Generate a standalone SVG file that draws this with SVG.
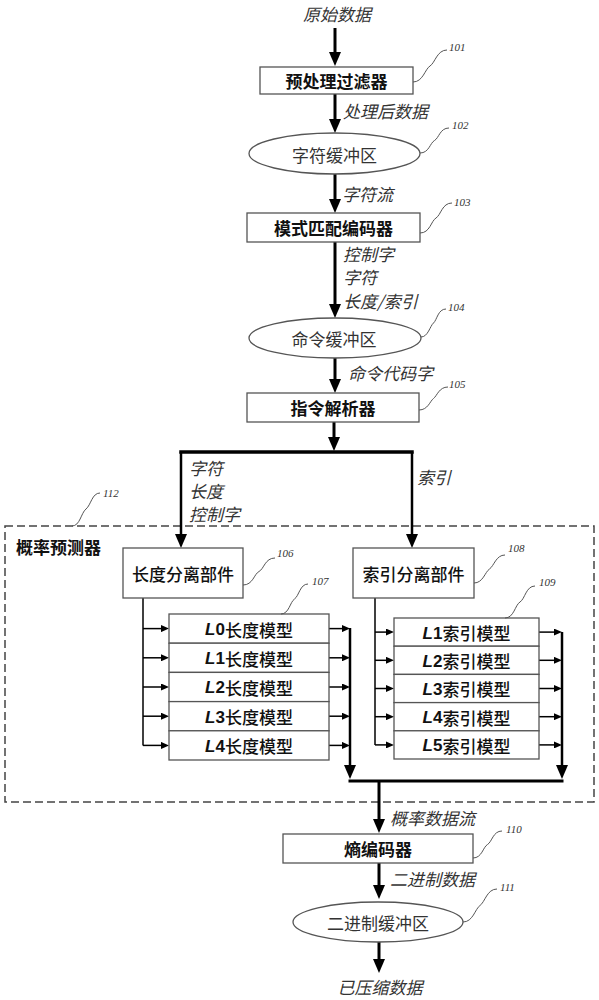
<svg xmlns="http://www.w3.org/2000/svg" width="599" height="1000" viewBox="0 0 599 1000">
<style>
text{font-family:"Noto Sans CJK SC","Liberation Sans",sans-serif;font-size:17px;fill:#111;dominant-baseline:central}
.box{fill:#fff;stroke:#555;stroke-width:1.3}
.bt{text-anchor:middle;font-weight:700}
.mt{text-anchor:middle;font-weight:500}
.et{text-anchor:middle;font-weight:400;fill:#333}
.lbl{font-style:italic;fill:#333}
.num{font-family:"Liberation Serif",serif;font-style:italic;font-size:11px;fill:#333}
.sq{fill:none;stroke:#555;stroke-width:1}
.thick{fill:none;stroke:#000;stroke-width:3}
.thin{fill:none;stroke:#000;stroke-width:1.5}
.Lb{font-family:"Liberation Sans",sans-serif;font-weight:700;font-style:italic}
.Db{font-family:"Liberation Sans",sans-serif;font-weight:700}
</style>
<defs>
<marker id="ah" markerUnits="userSpaceOnUse" markerWidth="14" markerHeight="12" viewBox="0 0 14 12" refX="6" refY="6" orient="auto"><path d="M0,0 L14,6 L0,12 z" fill="#000"/></marker>
<marker id="as" markerUnits="userSpaceOnUse" markerWidth="8" markerHeight="7" viewBox="0 0 8 7" refX="4" refY="3.5" orient="auto"><path d="M0,0 L8,3.5 L0,7 z" fill="#000"/></marker>
</defs>

<g id="predictor-112">
<rect x="5" y="526" width="589" height="276" fill="none" stroke="#444" stroke-width="1.5" stroke-dasharray="8 4"/>
<text x="16" y="546" font-weight="700">概率预测器</text>
<path class="sq" d="M72,526 C80,526 81,513 86,509 S92,493 100,493"/>
<text class="num" x="103" y="493">112</text>
</g>

<g id="connectors">
<line class="thick" x1="335" y1="28" x2="335" y2="58" marker-end="url(#ah)"/>
<line class="thick" x1="335" y1="94" x2="335" y2="125" marker-end="url(#ah)"/>
<line class="thick" x1="335" y1="174" x2="335" y2="205" marker-end="url(#ah)"/>
<line class="thick" x1="335" y1="242" x2="335" y2="310" marker-end="url(#ah)"/>
<line class="thick" x1="335" y1="358" x2="335" y2="385" marker-end="url(#ah)"/>
<line class="thick" x1="334" y1="422" x2="334" y2="443" marker-end="url(#ah)"/>
<line x1="181" y1="452" x2="412" y2="452" stroke="#000" stroke-width="3.5" stroke-linecap="square"/>
<line x1="181" y1="452" x2="181" y2="540" stroke="#000" stroke-width="2.5" marker-end="url(#ah)"/>
<line x1="412" y1="452" x2="412" y2="540" stroke="#000" stroke-width="2.5" marker-end="url(#ah)"/>

<path class="thin" d="M143,598 V745.4"/>
<line class="thin" x1="143" y1="628.6" x2="165" y2="628.6" marker-end="url(#as)"/>
<line class="thin" x1="143" y1="657.8" x2="165" y2="657.8" marker-end="url(#as)"/>
<line class="thin" x1="143" y1="687" x2="165" y2="687" marker-end="url(#as)"/>
<line class="thin" x1="143" y1="716.2" x2="165" y2="716.2" marker-end="url(#as)"/>
<line class="thin" x1="143" y1="745.4" x2="165" y2="745.4" marker-end="url(#as)"/>
<line class="thin" x1="329" y1="628.6" x2="346" y2="628.6" marker-end="url(#as)"/>
<line class="thin" x1="329" y1="657.8" x2="346" y2="657.8" marker-end="url(#as)"/>
<line class="thin" x1="329" y1="687" x2="346" y2="687" marker-end="url(#as)"/>
<line class="thin" x1="329" y1="716.2" x2="346" y2="716.2" marker-end="url(#as)"/>
<line class="thin" x1="329" y1="745.4" x2="346" y2="745.4" marker-end="url(#as)"/>
<line x1="350" y1="628" x2="350" y2="771" stroke="#000" stroke-width="2.5" marker-end="url(#ah)"/>

<path class="thin" d="M375,598 V744.9"/>
<line class="thin" x1="375" y1="632.1" x2="390" y2="632.1" marker-end="url(#as)"/>
<line class="thin" x1="375" y1="660.3" x2="390" y2="660.3" marker-end="url(#as)"/>
<line class="thin" x1="375" y1="688.5" x2="390" y2="688.5" marker-end="url(#as)"/>
<line class="thin" x1="375" y1="716.7" x2="390" y2="716.7" marker-end="url(#as)"/>
<line class="thin" x1="375" y1="744.9" x2="390" y2="744.9" marker-end="url(#as)"/>
<line class="thin" x1="539" y1="632.1" x2="558" y2="632.1" marker-end="url(#as)"/>
<line class="thin" x1="539" y1="660.3" x2="558" y2="660.3" marker-end="url(#as)"/>
<line class="thin" x1="539" y1="688.5" x2="558" y2="688.5" marker-end="url(#as)"/>
<line class="thin" x1="539" y1="716.7" x2="558" y2="716.7" marker-end="url(#as)"/>
<line class="thin" x1="539" y1="744.9" x2="558" y2="744.9" marker-end="url(#as)"/>
<line x1="562" y1="632" x2="562" y2="771" stroke="#000" stroke-width="2.5" marker-end="url(#ah)"/>

<line x1="350" y1="781" x2="562" y2="781" stroke="#000" stroke-width="3" stroke-linecap="square"/>
<line class="thick" x1="379" y1="781" x2="379" y2="825" marker-end="url(#ah)"/>
<line class="thick" x1="379" y1="863" x2="379" y2="891" marker-end="url(#ah)"/>
<line class="thick" x1="379" y1="942" x2="379" y2="965" marker-end="url(#ah)"/>
</g>

<g id="labels">
<text class="lbl" x="337" y="13" text-anchor="middle">原始数据</text>
<text class="lbl" x="343" y="110">处理后数据</text>
<text class="lbl" x="342" y="193">字符流</text>
<text class="lbl" x="343" y="253">控制字</text>
<text class="lbl" x="343" y="276">字符</text>
<text class="lbl" x="343" y="300">长度/索引</text>
<text class="lbl" x="348" y="372">命令代码字</text>
<text class="lbl" x="189" y="467">字符</text>
<text class="lbl" x="189" y="490">长度</text>
<text class="lbl" x="189" y="513">控制字</text>
<text class="lbl" x="417" y="476">索引</text>
<text class="lbl" x="390" y="817">概率数据流</text>
<text class="lbl" x="390" y="878">二进制数据</text>
<text class="lbl" x="380" y="986" text-anchor="middle">已压缩数据</text>
</g>

<g id="node-101">
<rect class="box" x="260" y="67" width="153" height="27"/>
<text class="bt" x="336.5" y="80.5">预处理过滤器</text>
<path class="sq" d="M413,82 C423,82 425,69 430,66 S437,50 447,50"/>
<text class="num" x="449" y="47">101</text>
</g>

<g id="node-102">
<ellipse class="box" cx="334.5" cy="153.5" rx="85.5" ry="20.5"/>
<text class="et" x="334.5" y="154">字符缓冲区</text>
<path class="sq" d="M420,153 C429,153 430,143 434.5,140.5 S440,128 449,128"/>
<text class="num" x="452" y="125">102</text>
</g>

<g id="node-103">
<rect class="box" x="247" y="213" width="173" height="29"/>
<text class="bt" x="333.5" y="227.5">模式匹配编码器</text>
<path class="sq" d="M420,233 C430,233 431,221 436,218 S442,203 452,203"/>
<text class="num" x="454" y="202">103</text>
</g>

<g id="node-104">
<ellipse class="box" cx="335" cy="338" rx="86" ry="20"/>
<text class="et" x="334" y="338.5">命令缓冲区</text>
<path class="sq" d="M421,337 C428,337 430,326 433.5,323 S438,309 446,309"/>
<text class="num" x="448" y="307">104</text>
</g>

<g id="node-105">
<rect class="box" x="247" y="393" width="172" height="29"/>
<text class="bt" x="333" y="407.5">指令解析器</text>
<path class="sq" d="M419,410 C428,410 430,401 433.5,398.5 S439,387 448,387"/>
<text class="num" x="449" y="384">105</text>
</g>

<g id="node-106">
<rect class="box" x="123" y="548" width="120" height="50"/>
<text class="mt" x="183" y="573">长度分离部件</text>
<path class="sq" d="M243,585 C253,585 254,574 259,571.5 S265,558 275,558"/>
<text class="num" x="277" y="553">106</text>
</g>

<g id="node-108">
<rect class="box" x="353" y="548" width="121" height="50"/>
<text class="mt" x="413.5" y="573">索引分离部件</text>
<path class="sq" d="M474,583 C483,583 485,572 489.5,569 S496,555 505,555"/>
<text class="num" x="508" y="548">108</text>
</g>

<g id="node-107">
<rect class="box" x="169" y="614" width="160" height="29.2"/>
<rect class="box" x="169" y="643.2" width="160" height="29.2"/>
<rect class="box" x="169" y="672.4" width="160" height="29.2"/>
<rect class="box" x="169" y="701.6" width="160" height="29.2"/>
<rect class="box" x="169" y="730.8" width="160" height="29.2"/>
<text class="mt" x="249" y="629"><tspan class="Lb">L</tspan><tspan class="Db">0</tspan>长度模型</text>
<text class="mt" x="249" y="658.2"><tspan class="Lb">L</tspan><tspan class="Db">1</tspan>长度模型</text>
<text class="mt" x="249" y="687.4"><tspan class="Lb">L</tspan><tspan class="Db">2</tspan>长度模型</text>
<text class="mt" x="249" y="716.6"><tspan class="Lb">L</tspan><tspan class="Db">3</tspan>长度模型</text>
<text class="mt" x="249" y="745.8"><tspan class="Lb">L</tspan><tspan class="Db">4</tspan>长度模型</text>
<path class="sq" d="M281,614 C289,614 290,602 294.5,599 S300,584 308,584"/>
<text class="num" x="312" y="581">107</text>
</g>

<g id="node-109">
<rect class="box" x="394" y="618" width="145" height="28.2"/>
<rect class="box" x="394" y="646.2" width="145" height="28.2"/>
<rect class="box" x="394" y="674.4" width="145" height="28.2"/>
<rect class="box" x="394" y="702.6" width="145" height="28.2"/>
<rect class="box" x="394" y="730.8" width="145" height="28.2"/>
<text class="mt" x="466.5" y="632.5"><tspan class="Lb">L</tspan><tspan class="Db">1</tspan>索引模型</text>
<text class="mt" x="466.5" y="660.7"><tspan class="Lb">L</tspan><tspan class="Db">2</tspan>索引模型</text>
<text class="mt" x="466.5" y="688.9"><tspan class="Lb">L</tspan><tspan class="Db">3</tspan>索引模型</text>
<text class="mt" x="466.5" y="717.1"><tspan class="Lb">L</tspan><tspan class="Db">4</tspan>索引模型</text>
<text class="mt" x="466.5" y="745.3"><tspan class="Lb">L</tspan><tspan class="Db">5</tspan>索引模型</text>
<path class="sq" d="M505,618 C514,618 515,605 520,602 S526,586 535,586"/>
<text class="num" x="539" y="582">109</text>
</g>

<g id="node-110">
<rect class="box" x="283" y="834" width="190" height="29"/>
<text class="bt" x="378" y="848.5">熵编码器</text>
<path class="sq" d="M473,858 C482,858 483,847 487.5,844.5 S493,831 502,831"/>
<text class="num" x="506" y="829">110</text>
</g>

<g id="node-111">
<ellipse class="box" cx="378" cy="922" rx="85" ry="20"/>
<text class="et" x="378" y="922.5">二进制缓冲区</text>
<path class="sq" d="M463,922 C473,922 475,909 480,905.5 S487,889 497,889"/>
<text class="num" x="500" y="887">111</text>
</g>
</svg>
